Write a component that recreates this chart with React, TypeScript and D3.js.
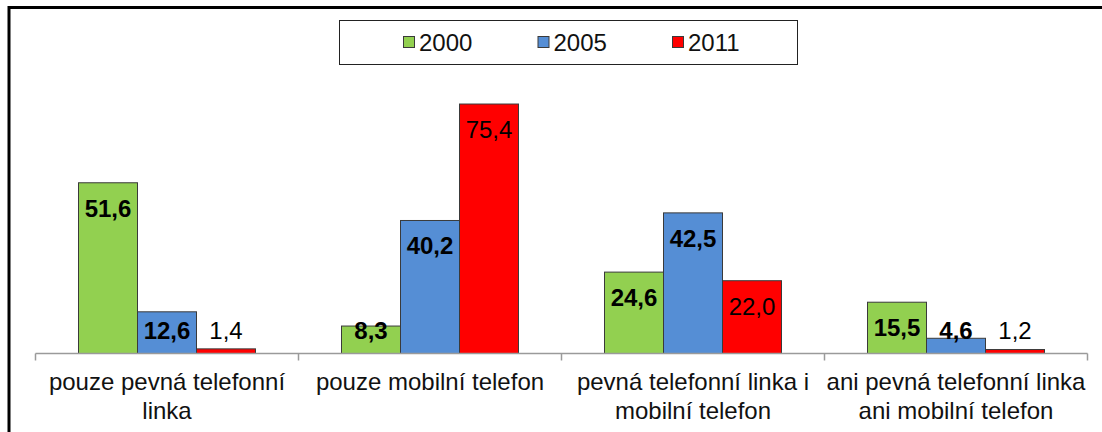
import React, { useEffect, useRef } from 'react';
import * as d3 from 'd3';

const categories = [
  ['pouze pevná telefonní', 'linka'],
  ['pouze mobilní telefon'],
  ['pevná telefonní linka i', 'mobilní telefon'],
  ['ani pevná telefonní linka', 'ani mobilní telefon'],
];
const years = ['2000', '2005', '2011'];
const values2000 = [51.6, 8.3, 24.6, 15.5];
const values2005 = [12.6, 40.2, 42.5, 4.6];
const values2011 = [1.4, 75.4, 22.0, 1.2];
const colors = ['#92D050', '#558ED5', '#FF0000'];

const App = () => {
  const svgRef = useRef(null);

  useEffect(() => {
    const width = 1102, height = 432;
    const svg = d3.select(svgRef.current).html('')
      .attr('width', width)
      .attr('height', height);
    const font = '"Liberation Sans", Arial, sans-serif';

    // outer chart frame (cropped at right and bottom)
    svg.append('rect')
      .attr('x', 9).attr('y', 7.5)
      .attr('width', 1300).attr('height', 600)
      .attr('fill', 'none').attr('stroke', '#000').attr('stroke-width', 3);

    const series = [values2000, values2005, values2011];
    const idx = d3.range(categories.length);

    const x0 = d3.scaleBand().domain(idx).range([35.5, 1087.5]).padding(0);
    const x1 = d3.scaleBand().domain(years).range([43, x0.bandwidth() - 43]).padding(0);
    const y = d3.scaleLinear().domain([0, 80]).range([353.5, 88.8]);

    const g = svg.append('g');
    const groups = g.selectAll('g.grp')
      .data(idx)
      .enter().append('g')
      .attr('class', 'grp')
      .attr('transform', d => `translate(${x0(d)},0)`);

    groups.selectAll('rect')
      .data(d => years.map((yr, i) => ({ yr, i, v: series[i][d] })))
      .enter().append('rect')
      .attr('x', d => x1(d.yr))
      .attr('y', d => y(d.v))
      .attr('width', x1.bandwidth())
      .attr('height', d => y(0) - y(d.v))
      .attr('fill', d => colors[d.i])
      .attr('stroke', '#3a3a3a')
      .attr('stroke-width', 1);

    groups.selectAll('text.val')
      .data(d => years.map((yr, i) => ({ yr, i, v: series[i][d] })))
      .enter().append('text')
      .attr('class', 'val')
      .attr('x', d => x1(d.yr) + x1.bandwidth() / 2)
      .attr('y', d => Math.min(y(d.v) + 34, 338.5))
      .attr('text-anchor', 'middle')
      .style('font-family', font)
      .style('font-size', '24px')
      .style('font-weight', d => (d.i < 2 ? 'bold' : 'normal'))
      .attr('fill', '#000')
      .text(d => d3.format('.1f')(d.v).replace('.', ','));

    // category axis
    const axis = g.append('g').attr('transform', `translate(0,${y(0)})`);
    axis.append('line')
      .attr('x1', x0.range()[0]).attr('x2', x0.range()[1])
      .attr('stroke', '#9a9a9a').attr('stroke-width', 1.5);
    axis.selectAll('line.tick')
      .data(idx.concat([categories.length]))
      .enter().append('line')
      .attr('class', 'tick')
      .attr('x1', d => x0.range()[0] + d * x0.step())
      .attr('x2', d => x0.range()[0] + d * x0.step())
      .attr('y1', 0).attr('y2', 7)
      .attr('stroke', '#9a9a9a').attr('stroke-width', 1.5);

    const labels = g.selectAll('text.cat')
      .data(idx)
      .enter().append('text')
      .attr('class', 'cat')
      .attr('text-anchor', 'middle')
      .style('font-family', font)
      .style('font-size', '24px')
      .attr('fill', '#111');
    labels.selectAll('tspan')
      .data(d => categories[d].map((line, k) => ({ line, k, d })))
      .enter().append('tspan')
      .attr('x', d => x0(d.d) + x0.bandwidth() / 2)
      .attr('y', d => 390 + d.k * 29)
      .text(d => d.line);

    // legend
    const legend = svg.append('g');
    legend.append('rect')
      .attr('x', 339.5).attr('y', 20.5)
      .attr('width', 458).attr('height', 44)
      .attr('fill', '#fff').attr('stroke', '#222').attr('stroke-width', 1);
    const item = legend.selectAll('g.item')
      .data(years)
      .enter().append('g')
      .attr('class', 'item')
      .attr('transform', (d, i) => `translate(${403 + i * 134.5},0)`);
    item.append('rect')
      .attr('x', 0.5).attr('y', 36.5)
      .attr('width', 11).attr('height', 11)
      .attr('fill', (d, i) => colors[i])
      .attr('stroke', '#3a3a3a').attr('stroke-width', 1);
    item.append('text')
      .attr('x', 16).attr('y', 50.5)
      .style('font-family', font)
      .style('font-size', '24px')
      .attr('fill', '#111')
      .text(d => d);
  }, []);

  return (
    <svg ref={svgRef} style={{ position: 'absolute', left: 0, top: 0, background: '#fff' }}></svg>
  );
};

export default App;
